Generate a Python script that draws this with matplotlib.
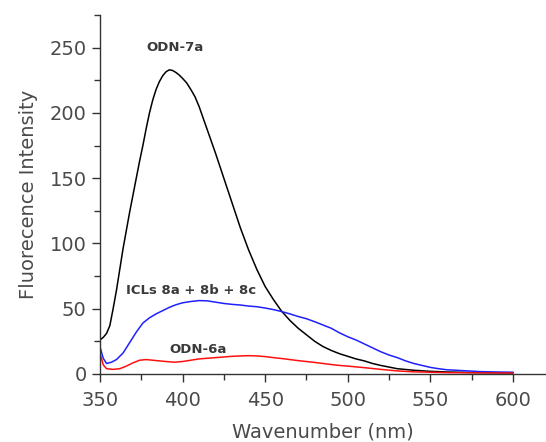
import matplotlib
matplotlib.use("Agg")
import matplotlib.pyplot as plt
from matplotlib.ticker import MultipleLocator

# ---- data ----
wl_7a = [350, 352, 354, 356, 358, 360, 362, 364, 366, 368, 370, 372, 374, 376, 378, 380,
         382, 384, 386, 388, 390, 392, 394, 396, 398, 400, 402.5, 405, 407.5, 410, 412.5,
         415, 417.5, 420, 425, 430, 435, 440, 445, 450, 455, 460, 465, 470,
         475, 480, 485, 490, 495, 500, 505, 510, 515, 520, 530, 540, 550, 560, 575, 600]
int_7a = [26, 28, 31, 37, 50, 64, 80, 96, 110, 124, 137, 150, 163, 175, 188, 200,
          210, 218, 224, 228.5, 231.5, 233, 232.5, 231, 229, 226.5, 223, 218, 212.5, 205, 196,
          187, 178, 169, 150, 131, 112, 95, 80, 67, 57, 48, 41, 35,
          30, 25, 21, 18, 15.5, 13.5, 11.5, 10, 8, 6.5, 4, 2.8, 2, 1.5, 1.1, 0.8]

wl_icl = [350, 352, 354, 357, 360, 364, 368, 372, 376, 380, 384, 388, 392, 396, 400, 405,
          410, 415, 420, 425, 430, 435, 440, 445, 450, 455, 460, 465, 470, 475, 480, 485,
          490, 495, 500, 505, 510, 515, 520, 525, 530, 535, 540, 545, 550, 555, 560, 570,
          580, 590, 600]
int_icl = [21, 12, 8, 9, 11, 16, 24, 32, 39, 43, 46, 48.5, 51, 53, 54.5, 55.5,
           56.2, 56, 55, 54, 53.3, 52.8, 52, 51.5, 50.5, 49.3, 47.8, 46, 44, 42.3, 40, 37.5,
           35, 31.5, 28.5, 26, 23, 20, 17, 14.5, 12.5, 10, 8, 6.5, 5, 4, 3.2, 2.5,
           1.8, 1.5, 1.3]

wl_6a = [350, 352, 354, 358, 362, 366, 370, 374, 378, 382, 386, 390, 395, 400, 405, 410,
         415, 420, 425, 430, 435, 440, 445, 450, 455, 460, 465, 470, 475, 480, 485, 490,
         495, 500, 510, 520, 530, 540, 550, 560, 580, 600]
int_6a = [16, 7, 4, 3.5, 4, 6, 8.5, 10.5, 11, 10.5, 10, 9.5, 9, 9.5, 10.5, 11.5,
          12, 12.5, 13, 13.5, 13.8, 14, 13.8, 13.3, 12.5, 11.8, 11, 10.2, 9.5, 8.8, 8, 7.2,
          6.5, 6, 4.8, 3.5, 2.3, 1.6, 1.3, 1, 0.8, 0.7]

labels = ["ODN-7a", "ICLs 8a + 8b + 8c", "ODN-6a"]
label_pos = [(395.5, 250), (405, 64), (409.5, 19)]

x_ticks = [350, 400, 450, 500, 550, 600]
y_ticks = [0, 50, 100, 150, 200, 250]

text_col = "#4a4a4a"
plt.rcParams["font.family"] = ["DejaVu Sans"]

fig = plt.figure(figsize=(5.46, 4.42), dpi=100)
ax = fig.add_axes([0.183, 0.154, 0.817, 0.812])

ax.plot(wl_7a, int_7a, color="black", lw=1.1)
ax.plot(wl_icl, int_icl, color="#2020ff", lw=1.1)
ax.plot(wl_6a, int_6a, color="#ff1010", lw=1.1)

for t, (x, y) in zip(labels, label_pos):
    ax.text(x, y, t, ha="center", va="center", fontsize=9.5, fontweight="bold",
            color="#3a3a3a")

ax.set_xlim(350, 620)
ax.set_ylim(0, 275)
ax.set_xticks(x_ticks)
ax.set_yticks(y_ticks)
ax.xaxis.set_minor_locator(MultipleLocator(25))
ax.yaxis.set_minor_locator(MultipleLocator(25))

for s in ["top", "right"]:
    ax.spines[s].set_visible(False)
for s in ["left", "bottom"]:
    ax.spines[s].set_color("#333333")
    ax.spines[s].set_linewidth(1.0)

ax.tick_params(which="major", direction="out", length=6, width=1, colors="#333333",
               labelsize=14, labelcolor=text_col)
ax.tick_params(axis="x", which="major", pad=6)
ax.tick_params(which="minor", direction="out", length=4, width=1, colors="#333333")

ax.set_xlabel("Wavenumber (nm)", fontsize=14, color=text_col, labelpad=9)
ax.set_ylabel("Fluorecence Intensity", fontsize=14, color=text_col, labelpad=8)

fig.savefig("out.png", dpi=100)
